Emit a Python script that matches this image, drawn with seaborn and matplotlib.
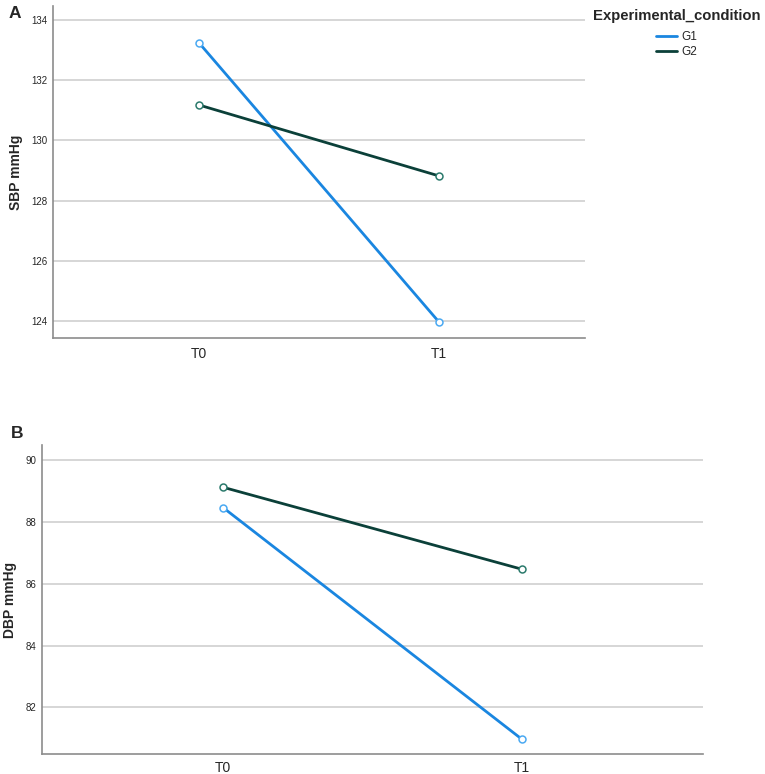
import pandas as pd
import matplotlib.pyplot as plt
import seaborn as sns

# values
times = ["T0", "T1"]
groups = ["G1", "G2"]
sbp_g1 = [133.25, 123.96]
sbp_g2 = [131.18, 128.82]
dbp_g1 = [88.46, 80.97]
dbp_g2 = [89.12, 86.47]

colors = {"G1": "#1a86e0", "G2": "#0b4039"}
edge_colors = {"G1": "#4aa9f2", "G2": "#2b7a6c"}

df = pd.DataFrame({
    "time": times * 2,
    "group": ["G1"] * 2 + ["G2"] * 2,
    "sbp": sbp_g1 + sbp_g2,
    "dbp": dbp_g1 + dbp_g2,
})

sns.set_style("white")
plt.rcParams["font.family"] = ["Liberation Sans", "DejaVu Sans"]

fig = plt.figure(figsize=(7.65, 7.74), dpi=100)
ax1 = fig.add_axes([0.0693, 0.5629, 0.6954, 0.429])
ax2 = fig.add_axes([0.0549, 0.0255, 0.864, 0.3996])

for ax, col, label, ylim, ticks, xpad in [
    (ax1, "sbp", "SBP mmHg", (123.425, 134.46), [124, 126, 128, 130, 132, 134], 6.5),
    (ax2, "dbp", "DBP mmHg", (80.48, 90.49), [82, 84, 86, 88, 90], 5),
]:
    sns.lineplot(data=df, x="time", y=col, hue="group", palette=colors,
                 marker="o", markersize=5, markerfacecolor="white",
                 markeredgewidth=1.1, linewidth=2.0, ax=ax, legend=(ax is ax1))
    # open circles with a lighter rim, as in the reference
    for line, g in zip(ax.lines[:len(groups)], groups):
        line.set_markeredgecolor(edge_colors[g])
    ax.set_xlim(-0.607, 1.607)
    ax.set_ylim(*ylim)
    ax.set_yticks(ticks)
    ax.yaxis.grid(True, color="#cfcfcf", linewidth=1.2)
    ax.set_axisbelow(True)
    for s in ["top", "right"]:
        ax.spines[s].set_visible(False)
    for s in ["left", "bottom"]:
        ax.spines[s].set_color("#8c8c8c")
        ax.spines[s].set_linewidth(1.2)
    ax.tick_params(axis="y", length=0, labelsize=7, pad=4)
    ax.tick_params(axis="x", length=0, labelsize=10, pad=xpad)
    ax.set_xlabel("")
    ax.set_ylabel(label, fontsize=10, fontweight="bold", labelpad=6)

leg = ax1.legend(title="Experimental_condition", loc="upper left",
                 bbox_to_anchor=(0.999, 1.018), frameon=False, fontsize=8.5,
                 handlelength=1.8, handletextpad=0.3, labelspacing=0.3,
                 borderpad=0.2)
leg.get_title().set_fontweight("bold")
leg.get_title().set_fontsize(10.7)
leg._legend_box.align = "center"
leg._legend_box.sep = 6
for h in leg.get_lines():
    h.set_marker("")

fig.text(0.011, 0.977, "A", fontsize=12.5, fontweight="bold")
fig.text(0.014, 0.434, "B", fontsize=12.5, fontweight="bold")

fig.savefig("out.png", dpi=100)
